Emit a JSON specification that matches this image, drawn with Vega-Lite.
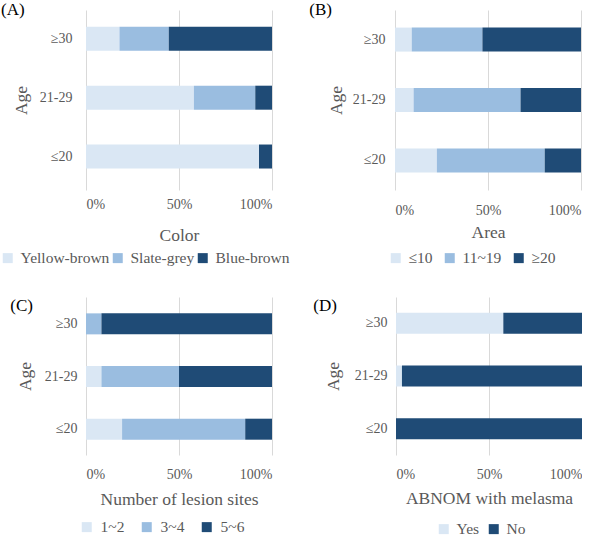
{
  "$schema": "https://vega.github.io/schema/vega-lite/v6.json",
  "background": "white",
  "padding": {"left": 0, "top": 1, "right": 0, "bottom": 2},
  "config": {
    "font": "Liberation Serif",
    "view": {"stroke": null},
    "axis": {
      "labelFont": "Liberation Serif", "titleFont": "Liberation Serif",
      "labelColor": "#595959", "titleColor": "#595959",
      "labelFontSize": 14, "titleFontSize": 17.5, "titleFontWeight": "normal",
      "domain": false, "ticks": false
    },
    "legend": {
      "labelFont": "Liberation Serif", "labelFontSize": 15.5, "labelColor": "#595959",
      "symbolType": "square", "symbolSize": 100, "symbolStrokeWidth": 0,
      "orient": "none", "direction": "horizontal", "title": null
    },
    "title": {"font": "Liberation Serif", "fontSize": 17, "fontWeight": "normal", "color": "#000000", "anchor": "start", "frame": "bounds"}
  },
  "spacing": 30,
  "resolve": {"scale": {"color": "independent"}, "legend": {"color": "independent"}},
  "data": {"values": [
    {"panel": "A", "age": "≥30", "cat": "Yellow-brown", "value": 18},
    {"panel": "A", "age": "≥30", "cat": "Slate-grey", "value": 26.5},
    {"panel": "A", "age": "≥30", "cat": "Blue-brown", "value": 55.5},
    {"panel": "A", "age": "21-29", "cat": "Yellow-brown", "value": 58},
    {"panel": "A", "age": "21-29", "cat": "Slate-grey", "value": 33},
    {"panel": "A", "age": "21-29", "cat": "Blue-brown", "value": 9},
    {"panel": "A", "age": "≤20", "cat": "Yellow-brown", "value": 93},
    {"panel": "A", "age": "≤20", "cat": "Slate-grey", "value": 0},
    {"panel": "A", "age": "≤20", "cat": "Blue-brown", "value": 7},
    {"panel": "B", "age": "≥30", "cat": "≤10", "value": 9},
    {"panel": "B", "age": "≥30", "cat": "11~19", "value": 38},
    {"panel": "B", "age": "≥30", "cat": "≥20", "value": 53},
    {"panel": "B", "age": "21-29", "cat": "≤10", "value": 10},
    {"panel": "B", "age": "21-29", "cat": "11~19", "value": 57.5},
    {"panel": "B", "age": "21-29", "cat": "≥20", "value": 32.5},
    {"panel": "B", "age": "≤20", "cat": "≤10", "value": 22.5},
    {"panel": "B", "age": "≤20", "cat": "11~19", "value": 58},
    {"panel": "B", "age": "≤20", "cat": "≥20", "value": 19.5},
    {"panel": "C", "age": "≥30", "cat": "1~2", "value": 0},
    {"panel": "C", "age": "≥30", "cat": "3~4", "value": 8.3},
    {"panel": "C", "age": "≥30", "cat": "5~6", "value": 91.7},
    {"panel": "C", "age": "21-29", "cat": "1~2", "value": 8.3},
    {"panel": "C", "age": "21-29", "cat": "3~4", "value": 41.7},
    {"panel": "C", "age": "21-29", "cat": "5~6", "value": 50},
    {"panel": "C", "age": "≤20", "cat": "1~2", "value": 19.4},
    {"panel": "C", "age": "≤20", "cat": "3~4", "value": 66.2},
    {"panel": "C", "age": "≤20", "cat": "5~6", "value": 14.4},
    {"panel": "D", "age": "≥30", "cat": "Yes", "value": 57.7},
    {"panel": "D", "age": "≥30", "cat": "No", "value": 42.3},
    {"panel": "D", "age": "21-29", "cat": "Yes", "value": 3.2},
    {"panel": "D", "age": "21-29", "cat": "No", "value": 96.8},
    {"panel": "D", "age": "≤20", "cat": "Yes", "value": 0},
    {"panel": "D", "age": "≤20", "cat": "No", "value": 100}
  ]},
  "vconcat": [
    {"hconcat": [
      {
        "width": 186, "height": 180,
        "title": {"text": "(A)", "dy": 13, "dx": 1},
        "transform": [{"filter": "datum.panel == 'A'"}],
        "mark": {"type": "bar", "size": 24},
        "encoding": {
          "x": {"field": "value", "type": "quantitative", "stack": "normalize",
                "axis": {"values": [0, 0.5, 1], "format": ".0%", "title": "Color", "labelPadding": 7, "titlePadding": 15, "gridColor": "#d9d9d9"}},
          "y": {"field": "age", "type": "nominal", "sort": ["≥30", "21-29", "≤20"], "title": "Age",
                "scale": {"paddingInner": 0.5, "paddingOuter": 0.28, "align": 0.43},
                "axis": {"labelPadding": 14, "titlePadding": 9}},
          "order": {"field": "cat", "sort": "descending"},
          "color": {"field": "cat", "type": "nominal", "sort": ["Yellow-brown", "Slate-grey", "Blue-brown"],
                    "scale": {"domain": ["Yellow-brown", "Slate-grey", "Blue-brown"], "range": ["#dae7f4", "#9abde0", "#1f4b76"]},
                    "legend": {"legendX": -86, "legendY": 240, "labelOffset": 5, "columnPadding": 0}}
        }
      },
      {
        "width": 186, "height": 180,
        "title": {"text": "(B)", "dy": 13, "dx": -18},
        "transform": [{"filter": "datum.panel == 'B'"}, {"calculate": "indexof(['≤10', '11~19', '≥20'], datum.cat)", "as": "catOrder"}],
        "mark": {"type": "bar", "size": 24},
        "encoding": {
          "x": {"field": "value", "type": "quantitative", "stack": "normalize",
                "axis": {"values": [0, 0.5, 1], "format": ".0%", "title": "Area", "labelPadding": 13, "titlePadding": 6, "gridColor": "#d9d9d9"}},
          "y": {"field": "age", "type": "nominal", "sort": ["≥30", "21-29", "≤20"], "title": "Age",
                "scale": {"paddingInner": 0.5, "paddingOuter": 0.24, "align": 0.5},
                "axis": {"labelPadding": 10, "titlePadding": 7}},
          "order": {"field": "catOrder", "sort": "ascending"},
          "color": {"field": "cat", "type": "nominal", "sort": ["≤10", "11~19", "≥20"],
                    "scale": {"domain": ["≤10", "11~19", "≥20"], "range": ["#dae7f4", "#9abde0", "#1f4b76"]},
                    "legend": {"legendX": -7, "legendY": 240, "labelOffset": 5, "columnPadding": 9}}
        }
      }
    ], "spacing": 19, "resolve": {"scale": {"color": "independent"}, "legend": {"color": "independent"}}},
    {"hconcat": [
      {
        "width": 186, "height": 158,
        "title": {"text": "(C)", "dy": 22, "dx": -6},
        "transform": [{"filter": "datum.panel == 'C'"}],
        "mark": {"type": "bar", "size": 21},
        "encoding": {
          "x": {"field": "value", "type": "quantitative", "stack": "normalize",
                "axis": {"values": [0, 0.5, 1], "format": ".0%", "title": "Number of lesion sites", "labelPadding": 12, "titlePadding": 9, "gridColor": "#d9d9d9"}},
          "y": {"field": "age", "type": "nominal", "sort": ["≥30", "21-29", "≤20"], "title": "Age",
                "scale": {"paddingInner": 0.5, "paddingOuter": 0.25, "align": 0.52},
                "axis": {"labelPadding": 9, "titlePadding": 10}},
          "order": {"field": "cat", "sort": "ascending"},
          "color": {"field": "cat", "type": "nominal", "sort": ["1~2", "3~4", "5~6"],
                    "scale": {"domain": ["1~2", "3~4", "5~6"], "range": ["#dae7f4", "#9abde0", "#1f4b76"]},
                    "legend": {"legendX": -7, "legendY": 222, "labelOffset": 6, "columnPadding": 14}}
        }
      },
      {
        "width": 186, "height": 158,
        "title": {"text": "(D)", "dy": 22, "dx": -11},
        "transform": [{"filter": "datum.panel == 'D'"}],
        "mark": {"type": "bar", "size": 21},
        "encoding": {
          "x": {"field": "value", "type": "quantitative", "stack": "normalize",
                "axis": {"values": [0, 0.5, 1], "format": ".0%", "title": "ABNOM with melasma", "labelPadding": 12, "titlePadding": 8, "gridColor": "#d9d9d9"}},
          "y": {"field": "age", "type": "nominal", "sort": ["≥30", "21-29", "≤20"], "title": "Age",
                "scale": {"paddingInner": 0.5, "paddingOuter": 0.25, "align": 0.5},
                "axis": {"labelPadding": 9, "titlePadding": 12}},
          "order": {"field": "cat", "sort": "descending"},
          "color": {"field": "cat", "type": "nominal", "sort": ["Yes", "No"],
                    "scale": {"domain": ["Yes", "No"], "range": ["#dae7f4", "#1f4b76"]},
                    "legend": {"legendX": 40, "legendY": 224, "labelOffset": 5, "columnPadding": 6}}
        }
      }
    ], "spacing": 41, "resolve": {"scale": {"color": "independent"}, "legend": {"color": "independent"}}}
  ]
}
